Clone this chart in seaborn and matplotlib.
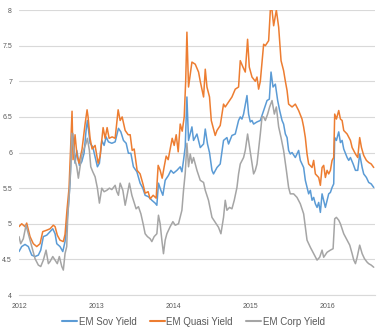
import matplotlib
matplotlib.use("Agg")
import matplotlib.pyplot as plt
import seaborn as sns
import pandas as pd
import numpy as np

# Decimal-year dates and yields
sov_t = [2012.000, 2012.035, 2012.078, 2012.121, 2012.165, 2012.208, 2012.251, 2012.282, 2012.316, 2012.360,
         2012.403, 2012.438, 2012.468, 2012.490, 2012.532, 2012.568, 2012.597, 2012.619, 2012.640, 2012.662,
         2012.684, 2012.697, 2012.727, 2012.749, 2012.783, 2012.814, 2012.844, 2012.870, 2012.887, 2012.922,
         2012.957, 2012.987, 2013.017, 2013.043, 2013.074, 2013.104, 2013.130, 2013.160, 2013.204, 2013.247,
         2013.290, 2013.321, 2013.355, 2013.390, 2013.419, 2013.451, 2013.484, 2013.529, 2013.571, 2013.606,
         2013.636, 2013.679, 2013.723, 2013.766, 2013.788, 2013.809, 2013.840, 2013.866, 2013.896, 2013.939,
         2013.970, 2014.004, 2014.048, 2014.091, 2014.113, 2014.134, 2014.156, 2014.178, 2014.199, 2014.243,
         2014.264, 2014.308, 2014.351, 2014.394, 2014.416, 2014.445, 2014.471, 2014.503, 2014.523, 2014.568,
         2014.610, 2014.653, 2014.697, 2014.718, 2014.762, 2014.805, 2014.848, 2014.870, 2014.892, 2014.913,
         2014.957, 2014.978, 2015.000, 2015.022, 2015.043, 2015.087, 2015.130, 2015.173, 2015.217, 2015.247,
         2015.269, 2015.295, 2015.325, 2015.355, 2015.381, 2015.412, 2015.432, 2015.455, 2015.477, 2015.497,
         2015.519, 2015.542, 2015.584, 2015.627, 2015.649, 2015.671, 2015.692, 2015.714, 2015.736, 2015.757,
         2015.779, 2015.801, 2015.822, 2015.844, 2015.866, 2015.887, 2015.909, 2015.931, 2015.952, 2015.974,
         2015.996, 2016.017, 2016.039, 2016.061, 2016.082, 2016.095, 2016.117, 2016.147, 2016.169, 2016.191,
         2016.212, 2016.256, 2016.277, 2016.299, 2016.334, 2016.364, 2016.394, 2016.419, 2016.451, 2016.471,
         2016.506, 2016.536, 2016.568, 2016.601]
sov_y = [4.61, 4.68, 4.71, 4.68, 4.56, 4.54, 4.56, 4.63, 4.82, 4.84,
         4.89, 4.93, 4.86, 4.72, 4.68, 4.61, 4.75, 4.96, 5.24, 5.57,
         6.17, 6.27, 5.85, 6.03, 5.82, 5.87, 5.99, 6.31, 6.45, 6.13,
         6.08, 5.94, 5.80, 5.85, 6.17, 6.10, 6.22, 6.15, 6.13, 6.15,
         6.34, 6.29, 6.17, 6.13, 5.99, 5.99, 5.80, 5.73, 5.57, 5.50,
         5.40, 5.38, 5.33, 5.29, 5.26, 5.57, 5.47, 5.40, 5.61, 5.68,
         5.75, 5.71, 5.75, 5.80, 5.73, 5.89, 6.08, 6.78, 6.17, 6.36,
         6.17, 6.26, 6.07, 6.12, 6.33, 6.12, 6.00, 5.75, 5.70, 5.79,
         5.84, 6.17, 6.21, 6.12, 6.24, 6.26, 6.45, 6.50, 6.47, 6.54,
         6.80, 6.54, 6.43, 6.45, 6.40, 6.43, 6.45, 6.59, 6.73, 6.75,
         7.13, 6.92, 6.96, 6.73, 6.59, 6.45, 6.40, 6.26, 6.21, 6.03,
         5.98, 6.00, 5.93, 6.03, 5.89, 5.84, 5.79, 5.61, 5.51, 5.42,
         5.47, 5.33, 5.37, 5.28, 5.23, 5.30, 5.16, 5.42, 5.33, 5.23,
         5.33, 5.42, 5.44, 5.51, 5.56, 6.21, 6.17, 6.29, 6.14, 6.17,
         6.05, 5.93, 5.89, 5.93, 5.84, 5.75, 5.75, 5.98, 5.79, 5.70,
         5.65, 5.58, 5.56, 5.51]

quasi_t = [2012.000, 2012.035, 2012.078, 2012.100, 2012.143, 2012.186, 2012.230, 2012.273, 2012.308, 2012.360,
           2012.403, 2012.445, 2012.468, 2012.497, 2012.532, 2012.575, 2012.597, 2012.623, 2012.649, 2012.662,
           2012.688, 2012.701, 2012.727, 2012.753, 2012.779, 2012.818, 2012.857, 2012.883, 2012.896, 2012.922,
           2012.948, 2012.987, 2013.026, 2013.052, 2013.091, 2013.117, 2013.143, 2013.169, 2013.208, 2013.247,
           2013.286, 2013.312, 2013.338, 2013.377, 2013.416, 2013.442, 2013.468, 2013.494, 2013.532, 2013.571,
           2013.610, 2013.636, 2013.675, 2013.701, 2013.740, 2013.779, 2013.805, 2013.831, 2013.857, 2013.883,
           2013.909, 2013.935, 2013.961, 2013.987, 2014.013, 2014.039, 2014.065, 2014.091, 2014.117, 2014.143,
           2014.162, 2014.178, 2014.199, 2014.243, 2014.286, 2014.329, 2014.351, 2014.394, 2014.416, 2014.438,
           2014.471, 2014.494, 2014.523, 2014.545, 2014.568, 2014.610, 2014.653, 2014.675, 2014.718, 2014.762,
           2014.805, 2014.848, 2014.870, 2014.905, 2014.935, 2014.965, 2014.987, 2015.022, 2015.065, 2015.087,
           2015.108, 2015.130, 2015.173, 2015.195, 2015.238, 2015.260, 2015.282, 2015.303, 2015.338, 2015.368,
           2015.399, 2015.432, 2015.455, 2015.477, 2015.497, 2015.542, 2015.584, 2015.627, 2015.671, 2015.692,
           2015.714, 2015.736, 2015.757, 2015.801, 2015.822, 2015.844, 2015.887, 2015.909, 2015.931, 2015.952,
           2015.974, 2015.996, 2016.017, 2016.039, 2016.061, 2016.082, 2016.095, 2016.117, 2016.147, 2016.169,
           2016.191, 2016.212, 2016.256, 2016.299, 2016.321, 2016.364, 2016.394, 2016.419, 2016.442, 2016.471,
           2016.506, 2016.536, 2016.568, 2016.601]
quasi_y = [4.96, 5.00, 4.96, 5.01, 4.82, 4.72, 4.68, 4.72, 4.89, 4.91,
           4.93, 4.98, 4.96, 4.84, 4.77, 4.75, 4.85, 5.20, 5.50, 5.85,
           6.58, 5.90, 6.25, 5.95, 5.85, 6.05, 6.40, 6.60, 6.50, 6.20,
           6.05, 6.10, 5.85, 5.95, 6.35, 6.20, 6.35, 6.20, 6.22, 6.20,
           6.60, 6.45, 6.50, 6.31, 6.25, 6.25, 6.03, 6.05, 5.75, 5.70,
           5.55, 5.43, 5.45, 5.35, 5.40, 5.36, 5.82, 5.75, 5.64, 5.80,
           5.95, 5.90, 6.05, 6.20, 6.10, 6.25, 6.01, 6.40, 6.30, 6.50,
           7.00, 7.69, 6.92, 7.27, 7.24, 7.13, 7.00, 6.78, 7.17, 6.92,
           6.78, 6.45, 6.33, 6.24, 6.31, 6.38, 6.68, 6.64, 6.71, 6.78,
           6.89, 6.92, 7.29, 7.20, 7.13, 7.59, 7.20, 7.06, 7.00, 7.06,
           6.89, 7.00, 7.52, 7.50, 7.57, 8.00, 8.00, 7.78, 8.00, 7.76,
           7.29, 7.15, 7.00, 6.87, 6.68, 6.64, 6.68, 6.59, 6.47, 6.36,
           6.21, 5.98, 5.84, 5.79, 5.89, 5.70, 5.65, 5.54, 5.79, 5.82,
           5.65, 5.75, 5.70, 5.75, 5.89, 5.93, 6.54, 6.47, 6.59, 6.47,
           6.45, 6.31, 6.26, 6.17, 6.07, 5.98, 5.93, 6.21, 6.07, 5.96,
           5.89, 5.86, 5.84, 5.79]

corp_t = [2012.000, 2012.022, 2012.056, 2012.091, 2012.121, 2012.165, 2012.208, 2012.251, 2012.282, 2012.316,
          2012.351, 2012.381, 2012.403, 2012.438, 2012.468, 2012.497, 2012.523, 2012.555, 2012.575, 2012.597,
          2012.619, 2012.632, 2012.653, 2012.671, 2012.684, 2012.705, 2012.727, 2012.749, 2012.770, 2012.792,
          2012.814, 2012.835, 2012.870, 2012.887, 2012.913, 2012.931, 2012.957, 2012.987, 2013.017, 2013.043,
          2013.074, 2013.104, 2013.139, 2013.173, 2013.204, 2013.247, 2013.269, 2013.290, 2013.312, 2013.347,
          2013.377, 2013.399, 2013.432, 2013.464, 2013.484, 2013.519, 2013.549, 2013.581, 2013.614, 2013.636,
          2013.666, 2013.701, 2013.723, 2013.753, 2013.788, 2013.809, 2013.831, 2013.853, 2013.874, 2013.896,
          2013.918, 2013.961, 2013.996, 2014.026, 2014.069, 2014.113, 2014.134, 2014.156, 2014.178, 2014.199,
          2014.221, 2014.243, 2014.264, 2014.308, 2014.351, 2014.394, 2014.416, 2014.458, 2014.503, 2014.545,
          2014.588, 2014.619, 2014.653, 2014.675, 2014.697, 2014.731, 2014.762, 2014.792, 2014.827, 2014.848,
          2014.870, 2014.913, 2014.935, 2014.965, 2014.991, 2015.022, 2015.043, 2015.065, 2015.087, 2015.130,
          2015.152, 2015.173, 2015.195, 2015.225, 2015.251, 2015.282, 2015.312, 2015.338, 2015.368, 2015.399,
          2015.432, 2015.468, 2015.497, 2015.519, 2015.562, 2015.606, 2015.649, 2015.692, 2015.714, 2015.736,
          2015.779, 2015.822, 2015.866, 2015.900, 2015.931, 2015.952, 2015.996, 2016.039, 2016.074, 2016.095,
          2016.117, 2016.147, 2016.169, 2016.212, 2016.256, 2016.290, 2016.321, 2016.342, 2016.364, 2016.386,
          2016.419, 2016.451, 2016.481, 2016.516, 2016.536, 2016.568, 2016.601]
corp_y = [4.82, 4.72, 4.79, 4.98, 4.86, 4.68, 4.51, 4.42, 4.40, 4.49,
          4.63, 4.44, 4.47, 4.54, 4.49, 4.44, 4.54, 4.40, 4.35, 4.58,
          4.68, 5.10, 5.43, 5.80, 6.27, 6.08, 5.89, 5.80, 5.64, 5.80,
          5.96, 6.03, 6.13, 6.20, 6.03, 5.80, 5.73, 5.66, 5.50, 5.29,
          5.50, 5.45, 5.47, 5.50, 5.48, 5.54, 5.45, 5.40, 5.57, 5.47,
          5.26, 5.38, 5.57, 5.40, 5.33, 5.21, 5.24, 5.14, 4.98, 4.86,
          4.82, 4.79, 4.75, 4.82, 4.86, 5.12, 5.00, 4.77, 4.58, 4.77,
          4.86, 4.96, 5.03, 4.98, 5.00, 5.19, 5.47, 5.71, 6.13, 5.80,
          5.98, 5.85, 5.93, 5.75, 5.61, 5.58, 5.47, 5.33, 5.09, 5.02,
          4.95, 4.86, 5.09, 5.33, 5.19, 5.23, 5.21, 5.33, 5.51, 5.70,
          5.84, 5.93, 6.03, 6.26, 6.07, 5.84, 5.70, 5.75, 5.84, 6.26,
          6.50, 6.50, 6.45, 6.54, 6.64, 6.73, 6.54, 6.64, 6.36, 6.21,
          6.03, 5.75, 5.51, 5.42, 5.42, 5.37, 5.28, 5.14, 4.95, 4.77,
          4.67, 4.58, 4.49, 4.53, 4.63, 4.53, 4.60, 4.63, 4.65, 5.07,
          5.09, 5.05, 5.00, 4.86, 4.77, 4.70, 4.58, 4.49, 4.44, 4.53,
          4.70, 4.58, 4.51, 4.46, 4.44, 4.42, 4.39]

series_names = ["EM Sov Yield", "EM Quasi Yield", "EM Corp Yield"]
year_ticks = [2012, 2013, 2014, 2015, 2016]
y_ticks = [4, 4.5, 5, 5.5, 6, 6.5, 7, 7.5, 8]
y_tick_labels = ["4", "4.5", "5", "5.5", "6", "6.5", "7", "7.5", "8"]

frames = []
for name, t, y in zip(series_names, [sov_t, quasi_t, corp_t], [sov_y, quasi_y, corp_y]):
    frames.append(pd.DataFrame({"date": t, "yield": y, "series": name}))
df = pd.concat(frames, ignore_index=True)

sns.set_theme(style="white")
plt.rcParams["font.family"] = ["Liberation Sans", "DejaVu Sans"]

fig = plt.figure(figsize=(3.83, 3.36), dpi=100)
ax = fig.add_axes([0.0496, 0.122, 0.93, 0.848])

palette = {"EM Sov Yield": "#5B9BD5", "EM Quasi Yield": "#ED7D31", "EM Corp Yield": "#A5A5A5"}
sns.lineplot(data=df, x="date", y="yield", hue="series", palette=palette,
             hue_order=series_names, linewidth=1.1, ax=ax, legend=False, sort=False)

ax.set_xlim(2012.0, 2016.62)
ax.set_ylim(4, 8)
ax.set_yticks(y_ticks)
ax.set_yticklabels(y_tick_labels)
ax.set_xticks(year_ticks)
ax.set_xticklabels([str(v) for v in year_ticks])
ax.tick_params(axis="both", labelsize=5, colors="#595959", length=0, pad=5)
ax.tick_params(axis="x", pad=6)
ax.grid(axis="y", color="#D9D9D9", linewidth=0.8)
ax.set_axisbelow(True)
for s in ["top", "right", "left"]:
    ax.spines[s].set_visible(False)
ax.spines["bottom"].set_color("#D9D9D9")
ax.spines["bottom"].set_linewidth(0.8)
ax.set_xlabel("")
ax.set_ylabel("")

handles = [plt.Line2D([0], [0], color=palette[n], lw=1.5) for n in series_names]
fig.legend(handles, series_names, loc="center", bbox_to_anchor=(0.505, 0.042), ncol=3,
           frameon=False, fontsize=7, handlelength=1.55, handletextpad=0.12, columnspacing=1.4,
           labelcolor="#595959")

fig.savefig("out.png", dpi=100)
